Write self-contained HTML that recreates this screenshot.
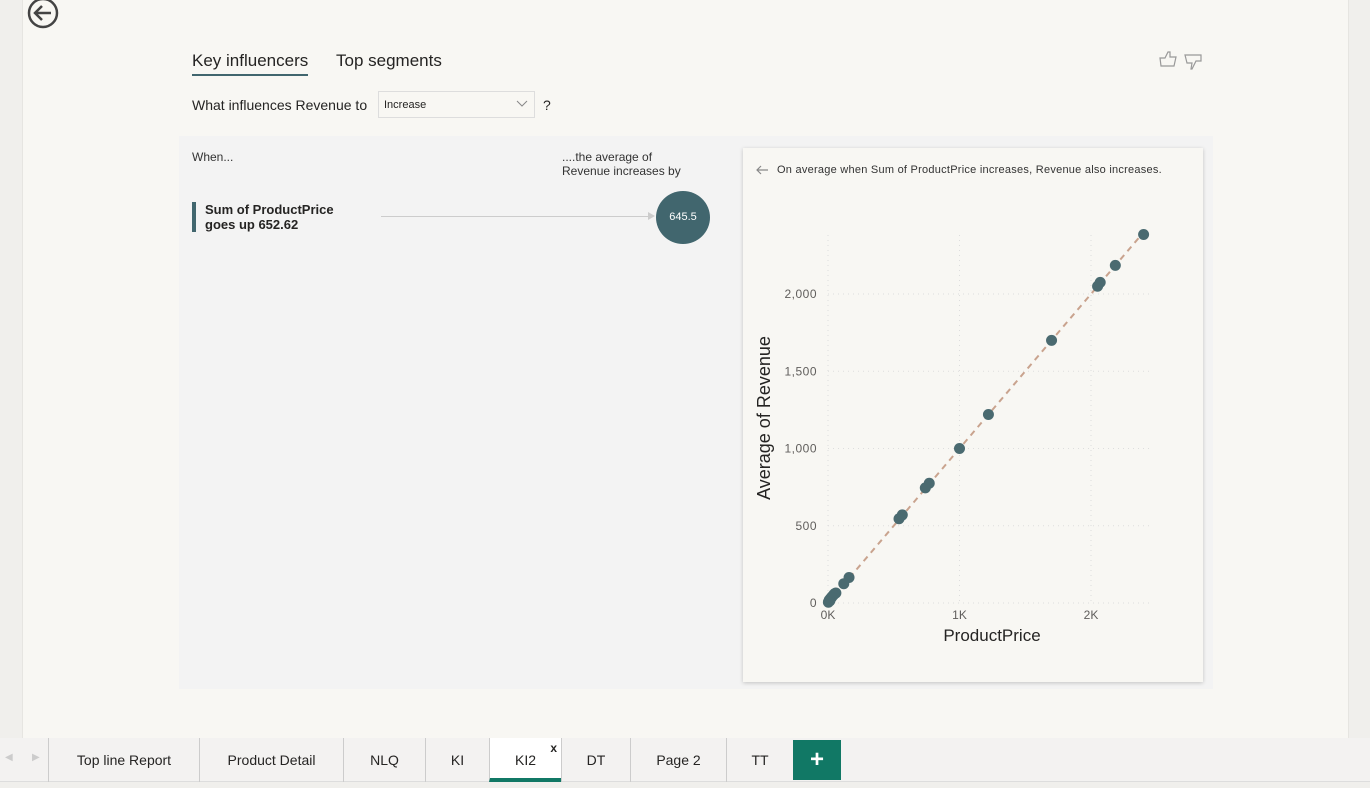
<!DOCTYPE html>
<html><head><meta charset="utf-8"><style>
*{margin:0;padding:0;box-sizing:border-box}
body{width:1370px;height:788px;overflow:hidden;background:#f0efec;font-family:"Liberation Sans",sans-serif;position:relative;color:#252423}
.abs{position:absolute}
</style></head><body>
<div class="abs" style="left:22px;top:0;width:1327px;height:738px;background:#f8f7f3;border-left:1px solid #e6e5e1;border-right:1px solid #e6e5e1"></div>
<svg class="abs" style="left:27px;top:0" width="34" height="30"><circle cx="16" cy="13" r="14" fill="none" stroke="#444" stroke-width="2.5"/><path d="M24 13H9M15 6l-7 7 7 7" fill="none" stroke="#444" stroke-width="2.5"/></svg>
<div class="abs" style="left:192px;top:51px;font-size:17px;color:#252423;padding-bottom:3px;border-bottom:2px solid #41666e">Key influencers</div>
<div class="abs" style="left:336px;top:51px;font-size:17px;color:#252423">Top segments</div>
<svg class="abs" style="left:1159px;top:51px" width="20" height="18"><path d="M1 7h5l3-6h2v5h6l-2 9H2z" fill="none" stroke="#999" stroke-width="1.2"/></svg>
<svg class="abs" style="left:1184px;top:53px" width="20" height="18"><path d="M1 2h16v6h-5l-4 8H7l1-6H3z" fill="none" stroke="#999" stroke-width="1.2"/></svg>
<div class="abs" style="left:192px;top:97px;font-size:14px">What influences Revenue to</div>
<div class="abs" style="left:378px;top:91px;width:157px;height:27px;border:1px solid #ddd;background:#f8f7f3;font-size:11px;padding:7px 5px">Increase<svg style="position:absolute;right:6px;top:8px" width="12" height="8"><path d="M1 1l5 5 5-5" fill="none" stroke="#888"/></svg></div>
<div class="abs" style="left:543px;top:97px;font-size:14px">?</div>
<div class="abs" style="left:179px;top:136px;width:1034px;height:553px;background:#f3f3f3"></div>
<div class="abs" style="left:192px;top:150px;font-size:12px;color:#333">When...</div>
<div class="abs" style="left:562px;top:150px;font-size:12px;color:#333;line-height:14px">....the average of<br>Revenue increases by</div>
<div class="abs" style="left:192px;top:202px;border-left:4px solid #41666e;padding-left:9px;font-size:13px;font-weight:bold;line-height:15px">Sum of ProductPrice<br>goes up 652.62</div>
<div class="abs" style="left:381px;top:216px;width:267px;height:1px;background:#ccc"></div>
<div class="abs" style="left:648px;top:212px;width:0;height:0;border-left:7px solid #ccc;border-top:4px solid transparent;border-bottom:4px solid transparent"></div>
<div class="abs" style="left:656px;top:191px;width:54px;height:53px;border-radius:50%;background:#41666e;color:#fff;font-size:11px;text-align:center;line-height:53px">645.5</div>
<div class="abs" style="left:743px;top:148px;width:460px;height:534px;background:#f8f7f3;box-shadow:0 1px 4px rgba(0,0,0,.2)"></div>
<svg class="abs" style="left:755px;top:164px" width="14" height="12"><path d="M13 6H2M6 2L2 6l4 4" fill="none" stroke="#888" stroke-width="1.2"/></svg>
<div class="abs" style="left:777px;top:164px;font-size:11px;color:#333;letter-spacing:0.25px">On average when Sum of ProductPrice increases, Revenue also increases.</div>
<svg class="abs" style="left:0;top:0" width="1370" height="788" id="chart"></svg>
<div class="abs" style="left:0;top:738px;width:1370px;height:44px;background:#f3f2f1;border-bottom:1px solid #ddd"></div>
<div class="abs" style="left:5px;top:752px;font-size:10px;color:#ccc">&#9664;</div>
<div class="abs" style="left:32px;top:752px;font-size:10px;color:#ccc">&#9654;</div>
<div id="tabs"></div>
<div class="abs" style="left:793px;top:740px;width:48px;height:40px;background:#117865;color:#fff;font-size:24px;font-weight:bold;text-align:center;line-height:40px">+</div>
<script>
const tabNames=["Top line Report","Product Detail","NLQ","KI","KI2","DT","Page 2","TT"];
const tabEdges=[48,199,343,425,489,561,630,726,793];
const tabs=document.getElementById('tabs');
tabNames.forEach((n,i)=>{const d=document.createElement('div');d.className='abs';


const act=n==="KI2";
d.style.cssText=`left:${tabEdges[i]}px;top:738px;width:${tabEdges[i+1]-tabEdges[i]}px;height:44px;border-left:1px solid #ccc;font-size:14px;text-align:center;line-height:44px;${act?'background:#fff;border-bottom:4px solid #117865;line-height:44px':''}`;
d.textContent=n;if(act){const x=document.createElement('span');x.textContent='x';x.style.cssText='position:absolute;right:4px;top:-12px;font-size:12px;font-weight:bold';d.appendChild(x);}
tabs.appendChild(d);});

const px=[2400,2185,2070,2050,1700,1220,1000,770,740,565,540,160,120,60,50,45,40,30,25,20,15,10,5,3];
const py=[2385,2185,2075,2050,1700,1220,1000,775,745,570,545,165,125,65,60,55,50,40,35,30,15,20,10,5];
const xTicks=[0,1000,2000],xTickLabels=["0K","1K","2K"];
const yTicks=[0,500,1000,1500,2000],yTickLabels=["0","500","1,000","1,500","2,000"];
const trendX=[0,2400],trendY=[0,2400];
const X=v=>828+v*0.1315, Y=v=>603-v*0.1545;
const svg=document.getElementById('chart');const NS='http://www.w3.org/2000/svg';
function el(t,a,name){const e=document.createElementNS(NS,t);for(const k in a)e.setAttribute(k,a[k]);


svg.appendChild(e);return e;}
yTicks.forEach((v,i)=>{el('line',{x1:828,x2:1153,y1:Y(v),y2:Y(v),stroke:'#ddd','stroke-dasharray':'1 4'},'y-gridline');
const t=el('text',{x:817,y:Y(v)+4,'text-anchor':'end','font-size':12,fill:'#605e5c','font-family':'Liberation Sans','letter-spacing':'0.5'},'y-tick-label');t.textContent=yTickLabels[i];});
xTicks.forEach((v,i)=>{el('line',{x1:X(v),x2:X(v),y1:235,y2:603,stroke:'#ddd','stroke-dasharray':'1 4'},'x-gridline');
const t=el('text',{x:X(v),y:619,'text-anchor':'middle','font-size':12,fill:'#605e5c','font-family':'Liberation Sans'},'x-tick-label');t.textContent=xTickLabels[i];});
el('line',{x1:X(trendX[0]),y1:Y(trendY[0]),x2:X(trendX[1]),y2:Y(trendY[1]),stroke:'#c9a38e','stroke-width':2,'stroke-dasharray':'6 5'},'trend-line');
px.forEach((v,i)=>el('circle',{cx:X(v),cy:Y(py[i]),r:5.5,fill:'#4a6a70'},'data-point'));
let t=el('text',{x:992,y:641,'text-anchor':'middle','font-size':17,fill:'#252423','font-family':'Liberation Sans'},'x-axis-title');t.textContent='ProductPrice';
t=el('text',{x:770,y:418,'text-anchor':'middle','font-size':18,fill:'#252423','font-family':'Liberation Sans',transform:'rotate(-90 770 418)'},'y-axis-title');t.textContent='Average of Revenue';
</script>
</body></html>
